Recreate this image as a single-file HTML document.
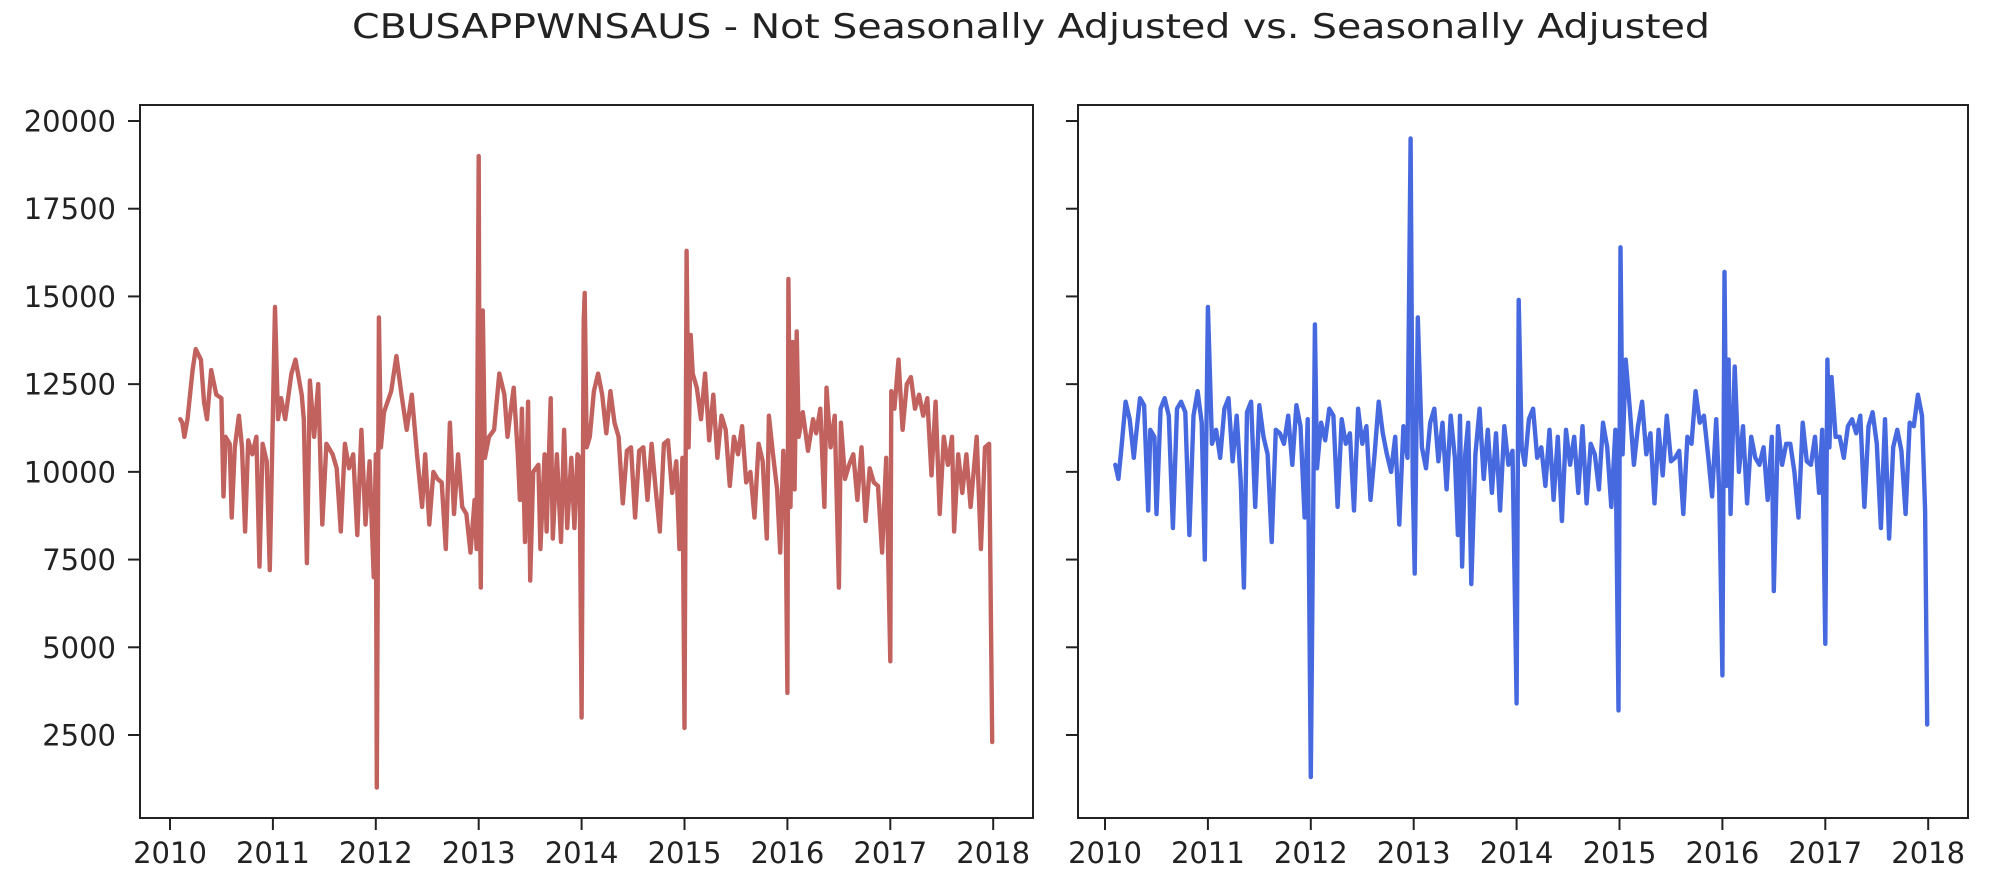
<!DOCTYPE html>
<html><head><meta charset="utf-8"><style>
html,body{margin:0;padding:0;background:#fff;}
svg{display:block;font-family:"DejaVu Sans","Liberation Sans",sans-serif;}
</style></head><body>
<svg id="chart" width="1999" height="883" viewBox="0 0 1999 883" xmlns="http://www.w3.org/2000/svg">
<text x="1031" y="38" text-anchor="middle" font-size="34" fill="#222" textLength="1358" lengthAdjust="spacingAndGlyphs">CBUSAPPWNSAUS - Not Seasonally Adjusted vs. Seasonally Adjusted</text>
<g id="left"></g>
<g id="right"></g>
</svg>
<script>
const yTicks = [2500,5000,7500,10000,12500,15000,17500,20000];
const yTickLabels = ["2500","5000","7500","10000","12500","15000","17500","20000"];
const xTicks = [2010,2011,2012,2013,2014,2015,2016,2017,2018];
const xTickLabels = ["2010","2011","2012","2013","2014","2015","2016","2017","2018"];

const nsaDates = [2010.10,2010.12,2010.14,2010.17,2010.22,2010.25,2010.30,2010.33,2010.36,2010.40,2010.45,2010.50,2010.52,2010.54,2010.58,2010.60,2010.63,2010.67,2010.70,2010.73,2010.76,2010.80,2010.84,2010.87,2010.90,2010.94,2010.97,
2011.02,2011.05,2011.08,2011.12,2011.18,2011.22,2011.28,2011.30,2011.33,2011.36,2011.40,2011.44,2011.48,2011.52,2011.58,2011.62,2011.66,2011.70,2011.74,2011.78,2011.82,2011.86,2011.90,2011.94,2011.98,
2012.00,2012.01,2012.03,2012.05,2012.08,2012.15,2012.20,2012.25,2012.30,2012.35,2012.40,2012.45,2012.48,2012.52,2012.56,2012.60,2012.64,2012.68,2012.72,2012.76,2012.80,2012.84,2012.88,2012.92,2012.96,2012.98,
2013.00,2013.01,2013.02,2013.04,2013.06,2013.10,2013.15,2013.20,2013.25,2013.28,2013.30,2013.34,2013.38,2013.40,2013.42,2013.45,2013.48,2013.50,2013.53,2013.58,2013.60,2013.64,2013.66,2013.70,2013.72,2013.76,2013.80,2013.83,2013.86,2013.90,2013.93,2013.96,2013.98,
2014.00,2014.02,2014.03,2014.05,2014.08,2014.12,2014.16,2014.20,2014.24,2014.28,2014.32,2014.36,2014.40,2014.44,2014.48,2014.52,2014.56,2014.60,2014.64,2014.68,2014.72,2014.76,2014.80,2014.84,2014.88,2014.92,2014.95,2014.98,
2015.00,2015.02,2015.04,2015.06,2015.08,2015.12,2015.16,2015.20,2015.24,2015.28,2015.32,2015.36,2015.40,2015.44,2015.48,2015.52,2015.56,2015.60,2015.64,2015.68,2015.72,2015.76,2015.80,2015.82,2015.86,2015.90,2015.93,2015.96,2015.98,
2016.00,2016.01,2016.03,2016.05,2016.07,2016.09,2016.11,2016.15,2016.20,2016.25,2016.28,2016.32,2016.36,2016.38,2016.42,2016.46,2016.50,2016.52,2016.56,2016.60,2016.64,2016.68,2016.72,2016.76,2016.80,2016.84,2016.88,2016.92,2016.96,
2017.00,2017.01,2017.04,2017.08,2017.12,2017.16,2017.20,2017.24,2017.28,2017.32,2017.36,2017.40,2017.44,2017.48,2017.52,2017.56,2017.60,2017.62,2017.66,2017.70,2017.74,2017.78,2017.84,2017.88,2017.92,2017.96,2017.99];
const nsaValues = [11500,11400,11000,11500,12900,13500,13200,12000,11500,12900,12200,12100,9300,11000,10800,8700,10700,11600,10700,8300,10900,10500,11000,7300,10800,10300,7200,
14700,11500,12100,11500,12800,13200,12200,11500,7400,12600,11000,12500,8500,10800,10500,10100,8300,10800,10100,10500,8200,11200,8500,10300,7000,
10500,1000,14400,10700,11700,12300,13300,12200,11200,12200,10500,9000,10500,8500,10000,9800,9700,7800,11400,8800,10500,9000,8800,7700,9200,7800,
19000,9500,6700,14600,10400,11000,11200,12800,12200,11000,11500,12400,10500,9200,11800,8000,12000,6900,10000,10200,7800,10500,8300,12100,8100,10500,8000,11200,8400,10400,8400,10500,10400,
3000,14300,15100,10700,11000,12300,12800,12200,11100,12300,11400,11000,9100,10600,10700,8700,10600,10700,9200,10800,9500,8300,10800,10900,9400,10300,7800,10400,
2700,16300,10700,13900,12800,12400,11500,12800,10900,12200,10400,11600,11200,9600,11000,10500,11300,9700,10000,8700,10800,10300,8100,11600,10500,9500,7700,10600,9800,
3700,15500,9000,13700,9500,14000,11000,11700,10600,11500,11100,11800,9000,12400,10700,11600,6700,11400,9800,10200,10500,9200,10700,8600,10100,9700,9600,7700,10400,
4600,12300,11800,13200,11200,12500,12700,11800,12200,11600,12100,9900,12000,8800,11000,10200,11000,8300,10500,9400,10500,9000,11000,7800,10700,10800,2300];

const saDates = [2010.10,2010.13,2010.16,2010.20,2010.24,2010.28,2010.30,2010.34,2010.38,2010.42,2010.44,2010.48,2010.50,2010.54,2010.58,2010.62,2010.66,2010.70,2010.74,2010.78,2010.82,2010.86,2010.90,2010.94,2010.97,
2011.00,2011.04,2011.08,2011.12,2011.16,2011.20,2011.24,2011.28,2011.32,2011.35,2011.38,2011.42,2011.46,2011.50,2011.54,2011.58,2011.62,2011.66,2011.70,2011.74,2011.78,2011.82,2011.86,2011.90,2011.94,2011.97,
2012.00,2012.04,2012.06,2012.10,2012.14,2012.18,2012.22,2012.26,2012.30,2012.34,2012.38,2012.42,2012.46,2012.50,2012.54,2012.58,2012.62,2012.66,2012.70,2012.74,2012.78,2012.82,2012.86,2012.90,2012.94,
2012.97,2012.99,2013.01,2013.04,2013.08,2013.12,2013.16,2013.20,2013.24,2013.28,2013.32,2013.36,2013.40,2013.43,2013.45,2013.47,2013.50,2013.53,2013.56,2013.60,2013.64,2013.68,2013.72,2013.76,2013.80,2013.84,2013.88,2013.92,2013.96,
2014.00,2014.02,2014.05,2014.08,2014.12,2014.16,2014.20,2014.24,2014.28,2014.32,2014.36,2014.40,2014.44,2014.48,2014.52,2014.56,2014.60,2014.64,2014.68,2014.72,2014.76,2014.80,2014.84,2014.88,2014.92,2014.96,
2014.99,2015.01,2015.03,2015.06,2015.10,2015.14,2015.18,2015.22,2015.26,2015.30,2015.34,2015.38,2015.42,2015.46,2015.50,2015.54,2015.58,2015.62,2015.66,2015.70,2015.74,2015.78,2015.82,2015.86,2015.90,2015.94,2015.97,
2016.00,2016.02,2016.04,2016.06,2016.08,2016.12,2016.16,2016.20,2016.24,2016.28,2016.32,2016.36,2016.40,2016.44,2016.48,2016.50,2016.54,2016.58,2016.62,2016.66,2016.70,2016.74,2016.78,2016.82,2016.86,2016.90,2016.94,2016.97,
2017.00,2017.02,2017.04,2017.06,2017.10,2017.14,2017.18,2017.22,2017.26,2017.30,2017.34,2017.38,2017.42,2017.46,2017.50,2017.54,2017.58,2017.62,2017.66,2017.70,2017.74,2017.78,2017.82,2017.86,2017.90,2017.94,2017.97,2017.99];
const saValues = [10200,9800,10700,12000,11500,10400,11000,12100,11900,8900,11200,11000,8800,11800,12100,11600,8400,11800,12000,11700,8200,11600,12300,11400,7500,
14700,10800,11200,10400,11800,12100,10300,11600,9700,6700,11700,12000,9000,11900,11000,10500,8000,11200,11100,10800,11600,10200,11900,11300,8700,11500,
1300,14200,10100,11400,10900,11800,11600,9000,11500,10800,11100,8900,11800,10800,11300,9200,10500,12000,11100,10500,10000,11000,8500,11300,10400,
19500,9800,7100,14400,10700,10100,11400,11800,10300,11400,9500,11600,10400,8200,11600,7300,10500,11400,6800,10500,11800,9800,11200,9400,11100,8900,11300,10200,10600,
3400,14900,10700,10200,11500,11800,10400,10700,9600,11200,9200,11000,8600,11200,10200,11000,9400,11300,9100,10800,10500,9500,11400,10700,9000,11200,
3200,16400,10500,13200,11800,10200,11300,12000,10500,11100,9100,11200,9900,11600,10300,10400,10600,8800,11000,10800,12300,11400,11600,10500,9300,11500,9400,
4200,15700,9600,13200,8800,13000,10000,11300,9100,11000,10400,10200,10700,9200,11000,6600,11300,10200,10800,10800,10000,8700,11400,10300,10200,11000,9400,11200,
5100,13200,10700,12700,11000,11000,10400,11300,11500,11100,11600,9000,11300,11700,10800,8400,11500,8100,10700,11200,10600,8800,11400,11300,12200,11600,8900,2800];

const SVGNS = "http://www.w3.org/2000/svg";
const Y0 = 105, Y1 = 818, YV20000 = 121, YV2500 = 735;
function yScale(v){ return YV2500 + (v - 2500) * (YV20000 - YV2500) / 17500; }
function mk(tag, attrs, parent){ const e = document.createElementNS(SVGNS, tag); for (const k in attrs) e.setAttribute(k, attrs[k]); parent.appendChild(e); return e; }

function drawPanel(g, x0, x1, x2010, dates, values, color, showYLabels, key){
  const xScale = d => x2010 + (d - 2010) * 102.9;
  let dstr = "";
  for (let i = 0; i < dates.length; i++) dstr += (i ? "L" : "M") + xScale(dates[i]).toFixed(1) + " " + yScale(values[i]).toFixed(1);
  const line = mk("path", {d: dstr, fill: "none", stroke: color, "stroke-width": 4.4, "stroke-linejoin": "round", "stroke-linecap": "round"}, g);
  
  
  const fr = mk("rect", {x: x0, y: Y0, width: x1 - x0, height: Y1 - Y0, fill: "none", stroke: "#222", "stroke-width": 2}, g);
  
  
  for (let i = 0; i < yTicks.length; i++){
    const y = yScale(yTicks[i]);
    const t = mk("line", {x1: x0 - 12, x2: x0, y1: y, y2: y, stroke: "#222", "stroke-width": 2}, g);
    
    
    if (showYLabels){
      const tx = mk("text", {x: x0 - 24, y: y + 10.5, "text-anchor": "end", "font-size": 29, fill: "#222"}, g);
      tx.textContent = yTickLabels[i];
      
      
    }
  }
  for (let i = 0; i < xTicks.length; i++){
    const x = xScale(xTicks[i]);
    const t = mk("line", {x1: x, x2: x, y1: Y1, y2: Y1 + 12, stroke: "#222", "stroke-width": 2}, g);
    
    
    const tx = mk("text", {x: x, y: 863, "text-anchor": "middle", "font-size": 29, fill: "#222"}, g);
    tx.textContent = xTickLabels[i];
    
    
  }
}
drawPanel(document.getElementById("left"), 140, 1033, 170, nsaDates, nsaValues, "#c1625f", true, "nsa");
drawPanel(document.getElementById("right"), 1078, 1968, 1105, saDates, saValues, "#4769df", false, "sa");
</script>
</body></html>
